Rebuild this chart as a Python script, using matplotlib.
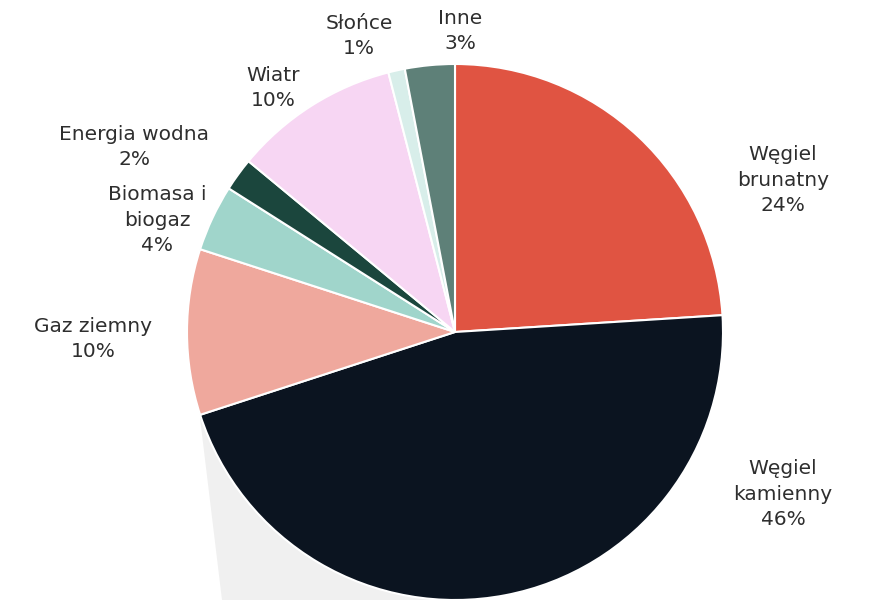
import matplotlib.pyplot as plt
from matplotlib.patches import Polygon

# Data
labels = ["Węgiel\nbrunatny", "Węgiel\nkamienny", "Gaz ziemny", "Biomasa i\nbiogaz",
          "Energia wodna", "Wiatr", "Słońce", "Inne"]
shares = [24, 46, 10, 4, 2, 10, 1, 3]
colors = ["#E05442", "#0B1420", "#EFA89D", "#A0D5CB", "#1B463D", "#F7D6F3", "#D8EEEA", "#5E8078"]

# label centres in pixels (x, y from top)
label_pos = [(783, 180), (783, 494), (93, 339), (157, 220), (134, 147), (273, 88), (359, 36), (460, 31)]

W, H = 874, 600
fig = plt.figure(figsize=(W / 100, H / 100), dpi=100)
ax = fig.add_axes([0, 0, 1, 1])

cx, cy, r = 455, H - 332, 268

# light grey shadow behind the big slice
ax.add_patch(Polygon([(200, H - 418), (222, 0), (cx, 0), (cx, cy)],
                     closed=True, facecolor="#F0F0F0", edgecolor="none", zorder=0))

ax.pie(shares, colors=colors, startangle=90, counterclock=False,
       center=(cx, cy), radius=r, frame=True,
       wedgeprops=dict(edgecolor="white", linewidth=1.5))
ax.set_xlim(0, W)
ax.set_ylim(0, H)
ax.set_aspect("equal")
ax.axis("off")

for lab, val, (px, py) in zip(labels, shares, label_pos):
    ax.text(px, H - py, f"{lab}\n{val}%", ha="center", va="center",
            fontsize=14.5, color="#2E2E2E", family="DejaVu Sans", linespacing=1.45)

fig.savefig("out.png", dpi=100)
